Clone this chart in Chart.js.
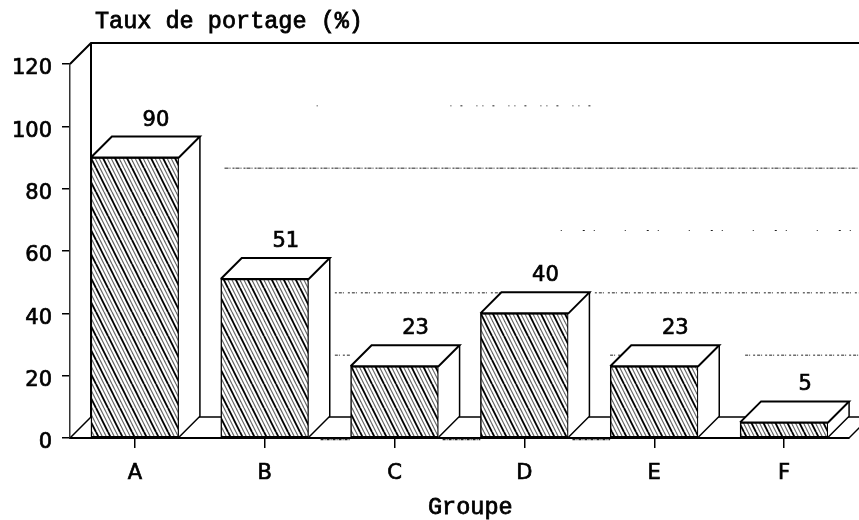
<!DOCTYPE html>
<html>
<head>
<meta charset="utf-8">
<style>
  html, body { margin: 0; padding: 0; background: #fff; }
  canvas { display: block; }
</style>
<script src="https://cdn.jsdelivr.net/npm/chart.js@4.4.2/dist/chart.umd.js"></script>
</head>
<body>
<canvas id="chart" width="859" height="520"></canvas>
<script>
const groups = ['A', 'B', 'C', 'D', 'E', 'F'];
const rates = [90, 51, 23, 40, 23, 5];
const yTicks = [0, 20, 40, 60, 80, 100, 120];
const yTitle = 'Taux de portage (%)';
const xTitle = 'Groupe';

const DEPTH = 21;
const MONO = '23.5px "Liberation Mono", monospace';
const SANS = '21px "DejaVu Sans", sans-serif';

// back wall grid is only faint scanner specks in the original, spans are in category units
const wallGrid = [
  { value: 100, spans: [[1.9, 1.91], [2.93, 4.02]], dash: [1, 9, 2, 14, 1, 5] },
  { value: 80, spans: [[1.19, 6.2]], dash: [4, 1, 1, 2, 2, 1] },
  { value: 60, spans: [[3.78, 6.2]], dash: [1, 21, 2, 9, 1, 30] },
  { value: 40, spans: [[2.04, 6.2]], dash: [2, 2, 3, 1, 1, 4] },
  { value: 20, spans: [[2.04, 2.16], [4.16, 4.3], [5.2, 6.2]], dash: [3, 1, 1, 3, 2, 2] }
];
const baseSpeckle = [[1.93, 2.16], [2.87, 3.16], [3.87, 4.16]];

const makeHatch = () => {
  const tile = document.createElement('canvas');
  tile.width = 12;
  tile.height = 24;
  const c = tile.getContext('2d');
  c.fillStyle = '#fff';
  c.fillRect(0, 0, 12, 24);
  const stroke = (offset, color, width) => {
    c.strokeStyle = color;
    c.lineWidth = width;
    for (let k = -12; k <= 12; k += 12) {
      c.beginPath();
      c.moveTo(offset + k, 0);
      c.lineTo(offset + k + 12, 24);
      c.stroke();
    }
  };
  stroke(0, '#000', 1.9);
  stroke(4, '#666', 1.2);
  stroke(8, '#666', 1.2);
  return c.createPattern(tile, 'repeat');
};

const line = (ctx, points, width = 1.5, color = '#000') => {
  ctx.beginPath();
  ctx.lineWidth = width;
  ctx.strokeStyle = color;
  points.forEach(([x, y], i) => (i ? ctx.lineTo(x, y) : ctx.moveTo(x, y)));
  ctx.stroke();
};

const heavyText = (ctx, text, x, y, weight) => {
  ctx.lineWidth = weight;
  ctx.strokeStyle = '#000';
  ctx.fillStyle = '#000';
  ctx.fillText(text, x, y);
  ctx.strokeText(text, x, y);
};

const box3d = {
  id: 'box3d',
  beforeDatasetsDraw(chart) {
    const { ctx, chartArea: area, scales: { y } } = chart;
    const step = area.width / groups.length;
    const wallX = area.left + DEPTH;
    const floorY = area.bottom - DEPTH;
    const topY = area.top - DEPTH;
    ctx.save();
    wallGrid.forEach(g => {
      ctx.setLineDash(g.dash);
      g.spans.forEach(([from, to]) => {
        const py = y.getPixelForValue(g.value) - DEPTH + 0.5;
        line(ctx, [[area.left + from * step, py], [area.left + to * step, py]], 1, '#222');
      });
    });
    ctx.setLineDash([3, 1, 1, 1]);
    baseSpeckle.forEach(([from, to]) => {
      const py = area.bottom + 1.5;
      line(ctx, [[area.left + from * step, py], [area.left + to * step, py]], 1.5, '#222');
    });
    ctx.setLineDash([]);
    line(ctx, [[area.left, area.top], [wallX, topY], [chart.width, topY]], 2);
    line(ctx, [[wallX, topY], [wallX, floorY]], 2);
    line(ctx, [[area.left, area.bottom], [wallX, floorY], [chart.width, floorY]], 1.5);
    line(ctx, [[area.right, area.bottom], [area.right + DEPTH, floorY]], 1.5);
    ctx.restore();
  },
  afterDatasetsDraw(chart) {
    const { ctx } = chart;
    ctx.save();
    ctx.lineJoin = 'miter';
    chart.getDatasetMeta(0).data.forEach((bar, i) => {
      const left = bar.x - bar.width / 2;
      const right = bar.x + bar.width / 2;
      const top = bar.y;
      const bottom = bar.base;
      ctx.fillStyle = '#fff';
      ctx.beginPath();
      ctx.moveTo(right, top);
      ctx.lineTo(right + DEPTH, top - DEPTH);
      ctx.lineTo(right + DEPTH, bottom - DEPTH);
      ctx.lineTo(right, bottom);
      ctx.closePath();
      ctx.fill();
      ctx.beginPath();
      ctx.moveTo(left, top);
      ctx.lineTo(left + DEPTH, top - DEPTH);
      ctx.lineTo(right + DEPTH, top - DEPTH);
      ctx.lineTo(right, top);
      ctx.closePath();
      ctx.fill();
      line(ctx, [[left, top], [left + DEPTH, top - DEPTH], [right + DEPTH, top - DEPTH], [right, top], [left, top]], 2);
      line(ctx, [[right + DEPTH, top - DEPTH], [right + DEPTH, bottom - DEPTH], [right, bottom]], 1.5);
      ctx.font = SANS;
      ctx.textAlign = 'center';
      ctx.textBaseline = 'alphabetic';
      heavyText(ctx, String(rates[i]), bar.x + DEPTH, top - DEPTH - 11, 0.7);
    });
    ctx.font = MONO;
    ctx.textAlign = 'left';
    heavyText(ctx, yTitle, 95, 28, 0.8);
    heavyText(ctx, xTitle, 428, 514, 0.8);
    ctx.restore();
  }
};

new Chart(document.getElementById('chart'), {
  type: 'bar',
  data: {
    labels: groups,
    datasets: [{
      data: rates,
      backgroundColor: makeHatch(),
      borderColor: '#000',
      borderWidth: 1.5,
      borderSkipped: false,
      barThickness: 88,
      categoryPercentage: 1.0
    }]
  },
  plugins: [box3d],
  options: {
    responsive: false,
    animation: false,
    layout: { padding: { top: 64, right: 10, left: 0, bottom: 0 } },
    plugins: {
      legend: { display: false },
      tooltip: { enabled: false }
    },
    scales: {
      x: {
        afterFit: scale => { scale.height = 82; },
        grid: { drawOnChartArea: false, offset: false, tickLength: 10, color: '#000', lineWidth: 1.5 },
        border: { color: '#000', width: 2 },
        ticks: {
          color: '#000',
          font: { family: 'DejaVu Sans', size: 21 },
          padding: 13,
          textStrokeColor: '#000',
          textStrokeWidth: 0.7
        }
      },
      y: {
        min: 0,
        max: 120,
        afterFit: scale => { scale.width = 70; },
        afterBuildTicks: scale => { scale.ticks = yTicks.map(value => ({ value })); },
        grid: { drawOnChartArea: false, tickLength: 8, color: '#000', lineWidth: 1.5 },
        border: { color: '#333', width: 1.5, dash: [2, 2] },
        ticks: {
          color: '#000',
          font: { family: 'DejaVu Sans', size: 21 },
          padding: 10,
          labelOffset: 5,
          textStrokeColor: '#000',
          textStrokeWidth: 0.7
        }
      }
    }
  }
});
</script>
</body>
</html>
